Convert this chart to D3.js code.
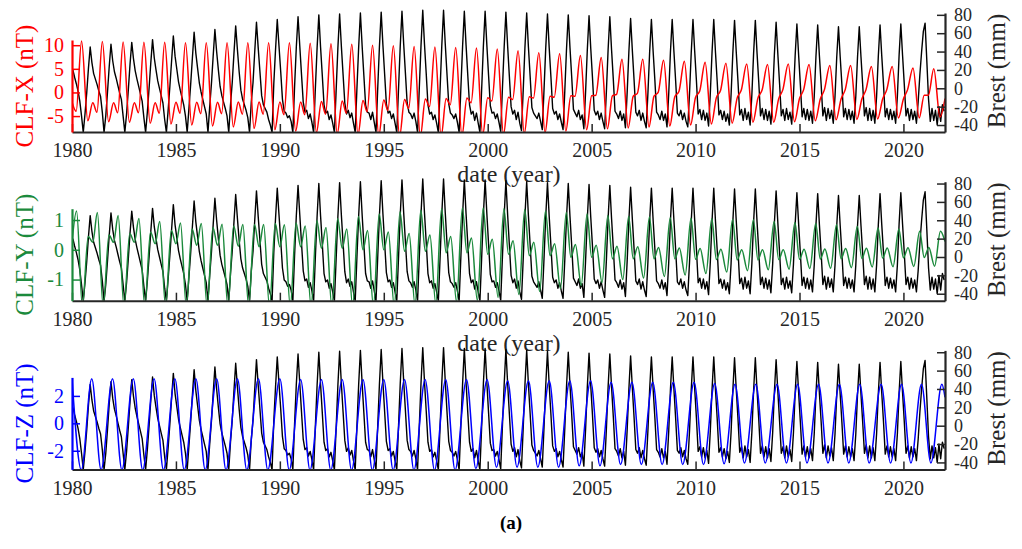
<!DOCTYPE html>
<html><head><meta charset="utf-8">
<script src="https://cdn.jsdelivr.net/npm/d3@7"></script>
<style>
body{margin:0;background:#fff}
svg{display:block}
text{font-family:"Liberation Serif","Times New Roman",serif}
</style>
</head><body>
<svg id="chart" width="1022" height="549"></svg>
<script>
// ---------------- DATA ----------------
const years = [1980,1981,1982,1983,1984,1985,1986,1987,1988,1989,1990,1991,1992,1993,1994,1995,1996,1997,1998,1999,2000,2001,2002,2003,2004,2005,2006,2007,2008,2009,2010,2011,2012,2013,2014,2015,2016,2017,2018,2019,2020,2021];
const xTickYears = [1980,1985,1990,1995,2000,2005,2010,2015,2020];
const brestTicks = [-40,-20,0,20,40,60,80];

// Brest monthly sea level (mm), Jan..Dec per year
const brestMonthly = [
[20,12,5,-3,-14,-30,-48,-28,-5,22,45,28],
[16,10,4,-3,-9,-26,-48,-30,-4,24,48,30],
[18,11,3,-5,-12,-30,-48,-28,-2,26,50,32],
[19,10,2,-6,-14,-32,-48,-26,0,28,53,33],
[20,8,0,-8,-16,-34,-48,-24,2,30,57,35],
[21,7,-2,-10,-18,-30,-48,-22,4,33,61,38],
[22,6,-4,-12,-20,-28,-48,-20,5,35,64,40],
[20,2,-8,-15,-22,-30,-48,-18,6,38,68,42],
[18,-2,-12,-18,-24,-32,-48,-15,6,40,72,44],
[18,-8,-18,-22,-26,-34,-40,-48,5,42,75,46],
[18,-12,-25,-27,-32,-30,-36,-48,2,45,78,46],
[15,-15,-26,-24,-33,-28,-37,-48,0,44,80,45],
[14,-18,-27,-25,-34,-29,-38,-48,-2,44,81,46],
[15,-16,-28,-24,-32,-27,-38,-48,0,45,82,46],
[14,-18,-26,-27,-34,-26,-37,-48,0,46,83,47],
[15,-17,-27,-25,-33,-28,-38,-48,-1,46,84,48],
[16,-16,-26,-28,-33,-27,-36,-48,0,47,85,48],
[16,-18,-28,-26,-34,-29,-38,-48,-1,47,85,48],
[15,-17,-27,-29,-33,-28,-37,-48,0,46,84,47],
[14,-18,-28,-25,-35,-27,-38,-48,-1,46,84,47],
[14,-19,-27,-26,-33,-28,-37,-47,0,45,83,46],
[13,-20,-28,-24,-34,-26,-38,-46,-2,45,82,45],
[13,-21,-27,-30,-33,-27,-36,-45,-2,44,81,44],
[12,-22,-28,-25,-34,-28,-37,-45,-3,43,80,44],
[12,-23,-27,-31,-24,-34,-29,-44,-4,42,79,43],
[11,-24,-29,-25,-34,-27,-36,-44,-4,42,78,42],
[10,-25,-28,-33,-25,-35,-28,-43,-5,40,76,41],
[9,-26,-30,-24,-35,-27,-36,-43,-5,40,75,40],
[9,-26,-29,-34,-25,-35,-28,-42,-6,40,75,40],
[8,-27,-30,-24,-34,-27,-36,-42,-6,39,75,40],
[8,-28,-23,-34,-24,-35,-27,-41,-6,39,75,39],
[7,-29,-24,-34,-25,-36,-28,-40,-7,38,74,39],
[7,-29,-23,-35,-22,-34,-26,-40,-7,38,74,38],
[6,-30,-22,-34,-23,-35,-25,-39,-8,37,72,37],
[5,-30,-23,-35,-22,-34,-26,-39,-8,36,70,36],
[4,-31,-22,-34,-23,-35,-25,-38,-9,35,69,35],
[4,-30,-21,-35,-22,-33,-24,-38,-9,34,67,34],
[3,-31,-22,-34,-23,-34,-25,-38,-9,34,67,34],
[3,-30,-21,-35,-22,-35,-24,-38,-9,35,69,35],
[4,-31,-22,-34,-23,-34,-25,-38,-9,36,70,36],
[4,-30,-22,-35,-23,-34,-25,-38,-15,15,40,62],
[71,30,-12,-36,-22,-35,-24,-40,-20,-36,-18,-25]
];

// CLF-X (nT): yearly key values at fractions of year
const clfxPhase = [0.0, 0.2, 0.46, 0.76];
const clfxBump   = [-2.0,-2.2,-2.2,-2.2,-2.2,-2.1,-2.1,-2.1,-2.0,-2.0,-2.0,-2.0,-1.9,-1.8,-1.7,-1.6,-1.5,-1.4,-1.3,-1.2,-1.1,-1.0,-0.9,-0.8,-0.7,-0.7,-0.7,-0.8,-0.8,-0.9,-1.0,-1.1,-1.2,-1.2,-1.3,-1.3,-1.4,-1.4,-1.4,-1.4,-1.4,-0.6];
const clfxDip    = [-4.0,-4.2,-4.3,-4.3,-4.4,-4.4,-4.5,-4.5,-4.6,-4.6,-4.7,-4.7,-4.6,-4.4,-4.1,-3.8,-3.4,-3.0,-2.6,-2.2,-1.8,-1.5,-1.2,-1.0,-0.8,-0.6,-0.4,-0.2,0.0,0.2,0.3,0.4,0.5,0.5,0.6,0.6,0.6,0.6,0.6,0.6,0.6,-0.6];
const clfxPeak   = [10.9,10.8,10.7,10.6,10.6,10.5,10.5,10.5,10.5,10.5,10.5,10.4,10.3,10.2,10.0,9.9,9.7,9.6,9.5,9.4,9.2,8.8,8.4,8.2,7.8,7.4,7.0,7.0,6.8,6.6,6.4,6.2,6.0,5.9,6.0,5.9,5.7,5.7,5.5,5.5,5.2,5.0];
const clfxTrough = [-6.0,-6.2,-6.3,-6.5,-6.7,-6.9,-7.1,-7.3,-7.6,-7.9,-8.2,-8.5,-8.8,-9.0,-9.2,-9.3,-9.3,-9.3,-9.2,-9.0,-8.9,-8.7,-8.5,-8.2,-7.9,-7.7,-7.5,-7.3,-7.1,-6.9,-6.7,-6.5,-6.3,-6.3,-6.2,-6.0,-5.8,-5.7,-5.6,-5.4,-5.4,-5.2];
const clfxEnd = -1.3;

// CLF-Y (nT)
const clfyPhase = [0.0, 0.22, 0.5, 0.78];
const clfyDip    = [0.25,0.25,0.25,0.25,0.2,0.2,0.15,0.15,0.12,0.1,0.1,0.1,0.05,0.05,0.0,0.0,-0.05,-0.05,-0.1,-0.1,-0.15,-0.15,-0.2,-0.2,-0.25,-0.25,-0.3,-0.3,-0.3,-0.3,-0.32,-0.33,-0.34,-0.34,-0.33,-0.32,-0.31,-0.3,-0.29,-0.28,-0.27,-0.26];
const clfyPeakA  = [1.3,1.25,1.15,1.05,0.95,0.9,0.88,0.86,0.85,0.85,0.84,0.8,0.75,0.7,0.65,0.6,0.55,0.5,0.45,0.4,0.35,0.3,0.25,0.2,0.18,0.15,0.12,0.1,0.08,0.06,0.04,0.02,0.0,0.0,0.0,0.02,0.03,0.04,0.05,0.06,0.07,0.08];
const clfyTrough = [-1.9,-1.9,-1.9,-1.9,-1.9,-1.9,-1.9,-1.9,-1.9,-1.9,-1.9,-1.9,-1.9,-1.9,-1.9,-1.9,-1.85,-1.8,-1.75,-1.7,-1.6,-1.5,-1.4,-1.3,-1.2,-1.1,-1.0,-0.95,-0.9,-0.85,-0.8,-0.75,-0.7,-0.67,-0.65,-0.63,-0.62,-0.6,-0.58,-0.57,-0.56,-0.55];
const clfyPeakB  = [0.45,0.5,0.55,0.6,0.65,0.7,0.75,0.8,0.85,0.88,0.9,0.98,1.05,1.12,1.2,1.28,1.33,1.38,1.4,1.4,1.38,1.35,1.3,1.25,1.2,1.15,1.12,1.1,1.08,1.06,1.04,1.02,1.01,0.95,0.92,0.88,0.84,0.78,0.73,0.7,0.62,0.62];
const clfyEnd = 0.28;

// CLF-Z (nT): winter maximum (time offset from 1 Jan) and summer minimum
const clfzPeakShift = [0.0,-0.05,-0.05,-0.05,-0.05,-0.05,-0.04,-0.04,-0.04,-0.03,0.0,0.0,0.0,0.0,0.0,0.0,0.0,-0.01,-0.02,-0.02,-0.03,-0.04,-0.04,-0.04,-0.05,-0.05,-0.06,-0.06,-0.06,-0.07,-0.07,-0.08,-0.1,-0.1,-0.08,-0.09,-0.08,-0.08,-0.1,-0.07,-0.09,-0.13];
const clfzPeak   = [3.28,3.25,3.25,3.25,3.25,3.25,3.25,3.25,3.25,3.25,3.25,3.2,3.2,3.2,3.2,3.2,3.2,3.2,3.2,3.2,3.2,3.1,3.1,3.1,3.1,3.1,3.0,3.0,3.0,3.0,3.0,2.9,2.85,2.85,2.85,2.85,2.85,2.85,2.85,2.85,2.85,2.85];
const clfzTrough = [-3.4,-3.4,-3.4,-3.4,-3.4,-3.4,-3.4,-3.4,-3.4,-3.4,-3.4,-3.4,-3.4,-3.4,-3.4,-3.4,-3.4,-3.4,-3.4,-3.3,-3.2,-3.2,-3.2,-3.2,-3.1,-3.1,-3.0,-3.0,-3.0,-3.0,-3.0,-2.95,-2.9,-2.9,-2.9,-2.9,-2.9,-2.9,-2.9,-2.9,-2.9,-2.9];
const clfzLastPeak = 2.85, clfzEnd = 1.9;

// ---------------- LAYOUT ----------------
const svg = d3.select("#chart");
const X0 = 72, X1 = 945;
const panelStep = 168.7;
const BOT = 132, LTOP = 40, RTOP = 13;
const x = d3.scaleLinear().domain([1980, 2022]).range([X0, X1]);
const tickLen = 8;
const axisGray = "#262626";
const fmt = d => (d < 0 ? "-" + Math.abs(d) : String(d));

// Build series points
const brestPts = [];
brestMonthly.forEach((row, i) => row.forEach((v, m) => brestPts.push({t: years[i] + (m + 0.5) / 12, v})));

const xPts = [];
years.forEach((y, i) => {
  xPts.push({t: y + clfxPhase[0], v: clfxBump[i]});
  xPts.push({t: y + clfxPhase[1], v: clfxDip[i]});
  xPts.push({t: y + clfxPhase[2], v: clfxPeak[i]});
  xPts.push({t: y + clfxPhase[3], v: clfxTrough[i]});
});
xPts.push({t: 2022, v: clfxEnd});

const yPts = [];
years.forEach((y, i) => {
  yPts.push({t: y + clfyPhase[0], v: clfyDip[i]});
  yPts.push({t: y + clfyPhase[1], v: clfyPeakA[i]});
  yPts.push({t: y + clfyPhase[2], v: clfyTrough[i]});
  yPts.push({t: y + clfyPhase[3], v: clfyPeakB[i]});
});
yPts.push({t: 2022, v: clfyEnd});

const zPts = [];
years.forEach((y, i) => {
  zPts.push({t: Math.max(1980, y + clfzPeakShift[i]), v: clfzPeak[i]});
  zPts.push({t: y + 0.45 + clfzPeakShift[i], v: clfzTrough[i]});
});
zPts.push({t: 2021.85, v: clfzLastPeak});
zPts.push({t: 2022, v: clfzEnd});

const panels = [
  {label: "CLF-X (nT)", color: "#ff0000", domain: [-8.37, 11.1], ticks: [-5, 0, 5, 10], pts: xPts},
  {label: "CLF-Y (nT)", color: "#1b8a3c", domain: [-1.71, 1.38], ticks: [-1, 0, 1], pts: yPts},
  {label: "CLF-Z (nT)", color: "#0000ff", domain: [-3.36, 3.35], ticks: [-2, 0, 2], pts: zPts}
];

panels.forEach((p, k) => {
  const oy = k * panelStep;
  const g = svg.append("g").attr("transform", `translate(0,${oy})`);
  const yl = d3.scaleLinear().domain(p.domain).range([BOT, LTOP]);
  const yr = d3.scaleLinear().domain([-47.6, 82]).range([BOT, RTOP]);

  const clipId = "clip" + k;
  g.append("clipPath").attr("id", clipId).append("rect")
    .attr("x", X0).attr("y", -20).attr("width", X1 - X0).attr("height", BOT + 20);

  // Brest series (right axis)
  g.append("path").datum(brestPts)
    .attr("clip-path", `url(#${clipId})`)
    .attr("fill", "none").attr("stroke", "#000").attr("stroke-width", 1.4)
    .attr("stroke-linejoin", "round")
    .attr("d", d3.line().x(d => x(d.t)).y(d => yr(d.v)));

  // colored series (left axis), drawn on top
  g.append("path").datum(p.pts)
    .attr("clip-path", `url(#${clipId})`)
    .attr("fill", "none").attr("stroke", p.color).attr("stroke-width", 1.5)
    .attr("d", d3.line().x(d => x(d.t)).y(d => yl(d.v)).curve(d3.curveMonotoneX));

  // bottom axis
  const xa = g.append("g").attr("transform", `translate(0,${BOT})`)
    .call(d3.axisBottom(x).tickValues(xTickYears).tickFormat(d3.format("d")).tickSizeInner(-tickLen).tickSizeOuter(0).tickPadding(11));
  xa.select(".domain").attr("stroke", axisGray).attr("stroke-width", 2);
  xa.selectAll(".tick line").attr("stroke", axisGray).attr("stroke-width", 1.5);
  xa.selectAll(".tick text").attr("fill", axisGray).attr("font-size", 20).attr("font-family", "Liberation Serif");

  // left axis
  const la = g.append("g").attr("transform", `translate(${X0},0)`)
    .call(d3.axisLeft(yl).tickValues(p.ticks).tickFormat(fmt).tickSizeInner(-tickLen).tickSizeOuter(0).tickPadding(8));
  la.select(".domain").attr("stroke", p.color).attr("stroke-width", 2.2);
  la.selectAll(".tick line").attr("stroke", p.color).attr("stroke-width", 1.5);
  la.selectAll(".tick text").attr("fill", p.color).attr("font-size", 20).attr("font-family", "Liberation Serif");

  // right axis
  const ra = g.append("g").attr("transform", `translate(${X1},0)`)
    .call(d3.axisRight(yr).tickValues(brestTicks).tickFormat(fmt).tickSizeInner(-tickLen).tickSizeOuter(0).tickPadding(9));
  ra.select(".domain").attr("stroke", axisGray).attr("stroke-width", 2.2);
  ra.selectAll(".tick line").attr("stroke", axisGray).attr("stroke-width", 1.5);
  ra.selectAll(".tick text").attr("fill", axisGray).attr("font-size", 18).attr("font-family", "Liberation Serif");

  // y labels
  g.append("text").attr("transform", `translate(33,86) rotate(-90)`)
    .attr("text-anchor", "middle").attr("fill", p.color).attr("font-size", 25)
    .text(p.label);
  g.append("text").attr("transform", `translate(1005,71) rotate(-90)`)
    .attr("text-anchor", "middle").attr("fill", axisGray).attr("font-size", 25)
    .text("Brest (mm)");

  if (k < 2) {
    g.append("text").attr("x", 509).attr("y", 182).attr("text-anchor", "middle")
      .attr("fill", axisGray).attr("font-size", 24).text("date (year)");
  }
});

svg.append("text").attr("x", 511).attr("y", 529).attr("text-anchor", "middle")
  .attr("font-size", 19).attr("font-weight", "bold")
  .attr("font-family", "Liberation Serif, serif").text("(a)");
</script>
</body></html>
